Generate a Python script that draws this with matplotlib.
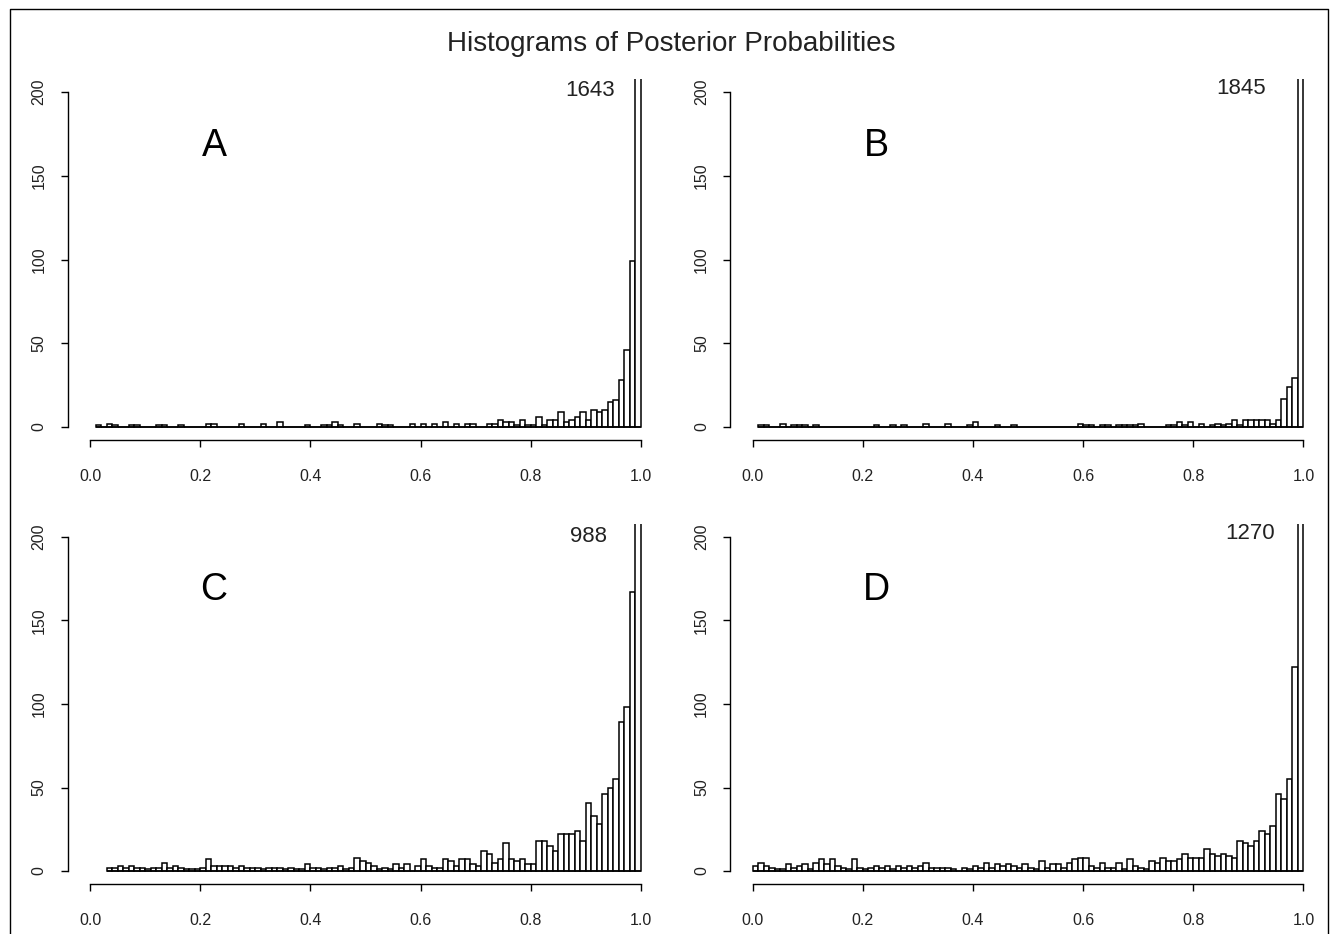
import numpy as np
import matplotlib.pyplot as plt
from matplotlib.lines import Line2D

plt.rcParams['font.family'] = ['Liberation Sans', 'DejaVu Sans']

# histogram counts per 0.01 bin (bin i covers [i/100, (i+1)/100))
counts_a = [0, 1, 0, 2, 1, 0, 0, 1, 1, 0,
            0, 0, 1, 1, 0, 0, 1, 0, 0, 0,
            0, 2, 2, 0, 0, 0, 0, 2, 0, 0,
            0, 2, 0, 0, 3, 0, 0, 0, 0, 1,
            0, 0, 1, 1, 3, 1, 0, 0, 2, 0,
            0, 0, 2, 1, 1, 0, 0, 0, 2, 0,
            2, 0, 2, 0, 3, 0, 2, 0, 2, 2,
            0, 0, 2, 2, 4, 3, 3, 1, 4, 1,
            1, 6, 1, 4, 4, 9, 3, 4, 6, 9,
            4, 10, 9, 10, 15, 16, 28, 46, 99, 1643]

counts_b = [0, 1, 1, 0, 0, 2, 0, 1, 1, 1,
            0, 1, 0, 0, 0, 0, 0, 0, 0, 0,
            0, 0, 1, 0, 0, 1, 0, 1, 0, 0,
            0, 2, 0, 0, 0, 2, 0, 0, 0, 1,
            3, 0, 0, 0, 1, 0, 0, 1, 0, 0,
            0, 0, 0, 0, 0, 0, 0, 0, 0, 2,
            1, 1, 0, 1, 1, 0, 1, 1, 1, 1,
            2, 0, 0, 0, 0, 1, 1, 3, 1, 3,
            0, 2, 0, 1, 2, 1, 2, 4, 1, 4,
            4, 4, 4, 4, 2, 4, 17, 24, 29, 1845]

counts_c = [0, 0, 0, 2, 2, 3, 2, 3, 2, 2,
            1, 2, 2, 5, 2, 3, 2, 1, 1, 1,
            2, 7, 3, 3, 3, 3, 2, 3, 2, 2,
            2, 1, 2, 2, 2, 1, 2, 1, 1, 4,
            2, 2, 1, 2, 2, 3, 1, 2, 8, 6,
            5, 3, 1, 2, 1, 4, 2, 4, 0, 3,
            7, 3, 2, 2, 7, 6, 3, 7, 7, 4,
            3, 12, 10, 5, 7, 17, 7, 6, 7, 4,
            4, 18, 18, 15, 12, 22, 22, 22, 24, 18,
            41, 33, 28, 46, 50, 55, 89, 98, 167, 988]

counts_d = [3, 5, 3, 2, 1, 1, 4, 2, 3, 4,
            1, 5, 7, 4, 7, 3, 2, 1, 7, 2,
            1, 2, 3, 2, 3, 1, 3, 2, 3, 2,
            3, 5, 2, 2, 2, 2, 1, 0, 2, 1,
            3, 2, 5, 2, 4, 3, 4, 3, 2, 4,
            2, 1, 6, 2, 4, 4, 2, 5, 7, 8,
            8, 3, 2, 5, 2, 2, 5, 1, 7, 3,
            2, 1, 6, 5, 8, 6, 6, 7, 10, 8,
            8, 8, 13, 10, 9, 10, 9, 8, 18, 17,
            15, 18, 24, 22, 27, 46, 43, 55, 122, 1270]

panel_labels = ['A', 'B', 'C', 'D']
first_bin = [1, 1, 3, 0]   # histograms start at the data minimum
x_ticks = [0.0, 0.2, 0.4, 0.6, 0.8, 1.0]
y_ticks = [0, 50, 100, 150, 200]

W, H = 1336, 934
fig = plt.figure(figsize=(W / 100, H / 100), dpi=100)

# plot regions in pixels: left, top, right, bottom
boxes = [(68, 78.6, 663, 440.4), (730.5, 78.6, 1325.5, 440.4),
         (68, 523.6, 663, 884.4), (730.5, 523.6, 1325.5, 884.4)]
count_x = [0.907, 0.887, 0.905, 0.903]
count_y = [201, 202, 200, 202]

all_counts = [counts_a, counts_b, counts_c, counts_d]

for k, counts in enumerate(all_counts):
    l, t, r, b = boxes[k]
    ax = fig.add_axes([l / W, 1 - b / H, (r - l) / W, (b - t) / H])

    counts = np.array(counts)
    idx = np.arange(first_bin[k], 100)
    # empty bins still get their (flat) outline, as R's hist does
    ax.hlines(0, idx[0] / 100, 1.0, color='black', linewidth=1.1)
    ax.bar(idx / 100, counts[idx], width=0.01, align='edge',
           color='white', edgecolor='black', linewidth=1.1)

    ax.set_xlim(-0.04, 1.04)
    ax.set_ylim(-8, 208)
    for s in ['top', 'right']:
        ax.spines[s].set_visible(False)
    ax.spines['bottom'].set_bounds(0, 1)
    ax.spines['left'].set_bounds(0, 200)
    ax.spines['bottom'].set_linewidth(1.0)
    ax.spines['left'].set_linewidth(1.0)

    ax.set_xticks(x_ticks)
    ax.set_xticklabels(['%.1f' % v for v in x_ticks])
    ax.set_yticks(y_ticks)
    ax.set_yticklabels([str(v) for v in y_ticks], rotation=90, va='center')
    ax.tick_params(axis='x', length=5, width=1, pad=15.5, labelsize=11.5, labelcolor='#222222')
    ax.tick_params(axis='y', length=5, width=1, pad=10.5, labelsize=11.5, labelcolor='#222222')

    ax.text(0.225, 168, panel_labels[k], fontsize=27, ha='center', va='center')
    ax.text(count_x[k], count_y[k], str(counts[-1]), fontsize=16,
            ha='center', va='center', color='#222222')

fig.text(671.5 / W, 1 - 44 / H, 'Histograms of Posterior Probabilities',
         fontsize=20, ha='center', va='center', color='#222222')

# window frame
fx = [10 / W, 10 / W, 1328 / W, 1328 / W]
fy = [0, 1 - 9 / H, 1 - 9 / H, 0]
fig.add_artist(Line2D(fx, fy, color='black', linewidth=1.0, transform=fig.transFigure))

fig.savefig('out.png', dpi=100)
